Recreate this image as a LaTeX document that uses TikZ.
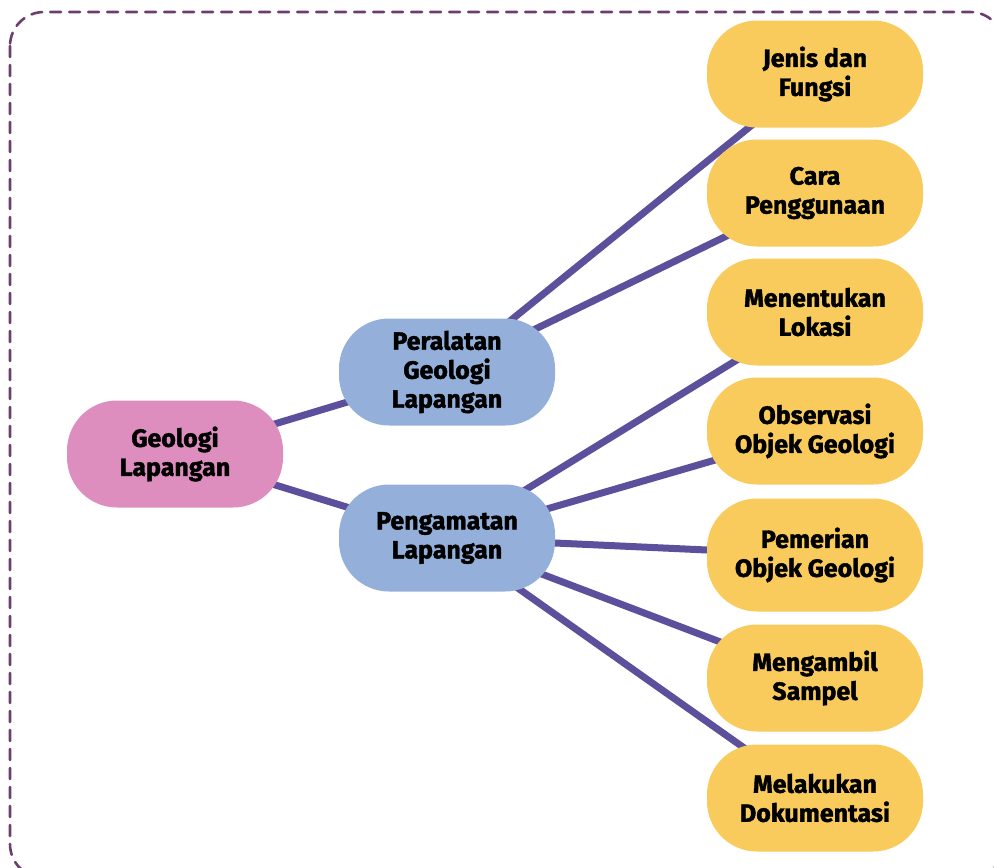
\documentclass[tikz,border=0pt]{standalone}
\usepackage{fontspec}
\setmainfont{Fira Sans}[BoldFeatures={FakeBold=1.6}]
\usetikzlibrary{backgrounds}
\definecolor{rootpink}{HTML}{DE8DBF}
\definecolor{subblue}{HTML}{93AFDA}
\definecolor{leafyellow}{HTML}{F8CB5C}
\definecolor{branchline}{HTML}{5C509C}
\definecolor{framepurple}{HTML}{6C3E70}
\begin{document}
\begin{tikzpicture}[x=1pt, y=-1pt, line join=round, line cap=round,
  topic/.style={rectangle, rounded corners=50pt, minimum width=216pt,
    minimum height=107pt, inner sep=0pt, align=center,
    font=\fontsize{25}{29}\selectfont\bfseries},
  root/.style={topic, fill=rootpink},
  sub/.style={topic, fill=subblue},
  leaf/.style={topic, fill=leafyellow},
  branch/.style={draw=branchline, line width=7pt}]
\useasboundingbox (0,0) rectangle (994,868);
\begin{scope}
\clip (0,0) rectangle (994,868);
\draw[framepurple, line width=2.6pt, dash pattern=on 11pt off 8pt, rounded corners=34pt]
  (10,12) rectangle (1004,878);
\end{scope}
% main topic and the two branches
\node[root] (geo) at (175,454) {Geologi\\Lapangan};
\node[sub] (alat) at (447,372) {Peralatan\\Geologi\\Lapangan};
\node[sub] (amat) at (447,538) {Pengamatan\\Lapangan};
% leaves
\node[leaf] (jenis) at (815,74) {Jenis dan\\Fungsi};
\node[leaf] (cara) at (815,193) {Cara\\Penggunaan};
\node[leaf] (lokasi) at (815,312) {Menentukan\\Lokasi};
\node[leaf] (obs) at (815,431) {Observasi\\Objek Geologi};
\node[leaf, minimum height=113pt] (pemerian) at (815,555) {Pemerian\\Objek Geologi};
\node[leaf] (sampel) at (815,678) {Mengambil\\Sampel};
\node[leaf] (dok) at (815,798) {Melakukan\\Dokumentasi};
\begin{scope}[on background layer]
\draw[branch] (geo.center) -- (alat.center) (geo.center) -- (amat.center);
\foreach \t in {jenis,cara} \draw[branch] (alat.center) -- (\t.center);
\foreach \t in {lokasi,obs,pemerian,sampel,dok} \draw[branch] (amat.center) -- (\t.center);
\end{scope}
\end{tikzpicture}
\end{document}
